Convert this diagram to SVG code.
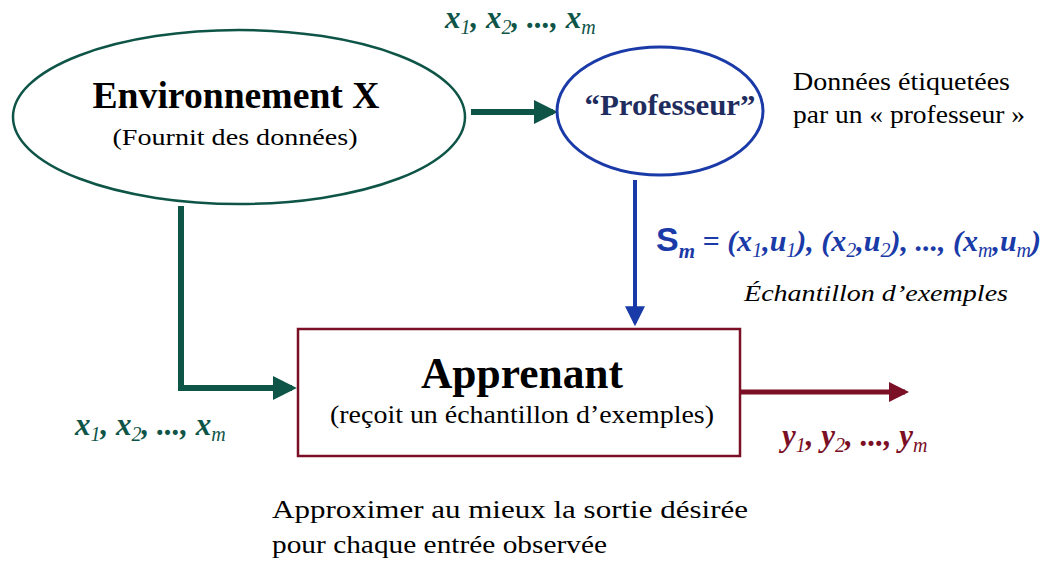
<svg xmlns="http://www.w3.org/2000/svg" width="1042" height="562" viewBox="0 0 1042 562">
<style>
.serif{font-family:"Liberation Serif","Times New Roman",serif}
.teal{fill:#0e5548}
.red{fill:#7a0f25}
.blue{fill:#1a3aa8}
.math{font-family:"Liberation Serif","Times New Roman",serif;font-style:italic;font-weight:bold;font-size:31px}
.sub{font-weight:normal;font-size:20px}
</style>
<defs>
<marker id="ahTeal" markerWidth="4" markerHeight="4" refX="3.2" refY="2" orient="auto" markerUnits="strokeWidth"><path d="M0,0 L4,2 L0,4 Z" fill="#0e5548"/></marker>
<marker id="ahBlue" markerWidth="5" markerHeight="5" refX="4.2" refY="2.5" orient="auto" markerUnits="strokeWidth"><path d="M0,0 L5,2.5 L0,5 Z" fill="#1a3aa8"/></marker>
<marker id="ahRed" markerWidth="4" markerHeight="4" refX="3.2" refY="2" orient="auto" markerUnits="strokeWidth"><path d="M0,0 L4,2 L0,4 Z" fill="#7a0f25"/></marker>
</defs>
<rect width="1042" height="562" fill="#fff"/>
<g id="connectors" fill="none">
<path d="M471,112 L553,112" stroke="#0e5548" stroke-width="6" marker-end="url(#ahTeal)"/>
<path d="M181,206 L181,388 L292,388" stroke="#0e5548" stroke-width="6" marker-end="url(#ahTeal)"/>
<path d="M635,180 L635,323" stroke="#1a3aa8" stroke-width="4" marker-end="url(#ahBlue)"/>
<path d="M741,392 L905,392" stroke="#7a0f25" stroke-width="5" marker-end="url(#ahRed)"/>
</g>
<g id="environnement">
<ellipse cx="239" cy="117" rx="226" ry="87" fill="none" stroke="#0e5548" stroke-width="2.5"/>
<text class="serif" x="236" y="108" font-size="38" font-weight="bold" text-anchor="middle" fill="#000" textLength="287" lengthAdjust="spacingAndGlyphs">Environnement X</text>
<text class="serif" x="235" y="145" font-size="24" text-anchor="middle" fill="#000" textLength="245" lengthAdjust="spacingAndGlyphs">(Fournit des données)</text>
</g>
<g id="professeur">
<ellipse cx="660" cy="111" rx="103" ry="64" fill="none" stroke="#1a3aa8" stroke-width="3"/>
<text class="serif" x="670" y="115" font-size="30" font-weight="bold" text-anchor="middle" fill="#1f2d5e" textLength="171" lengthAdjust="spacingAndGlyphs">“Professeur”</text>
</g>
<g id="apprenant">
<rect x="298" y="329" width="442" height="127" fill="none" stroke="#7a0f25" stroke-width="2.5"/>
<text class="serif" x="522" y="388" font-size="44" font-weight="bold" text-anchor="middle" fill="#000" textLength="202" lengthAdjust="spacingAndGlyphs">Apprenant</text>
<text class="serif" x="522" y="423" font-size="25" text-anchor="middle" fill="#000" textLength="384" lengthAdjust="spacingAndGlyphs">(reçoit un échantillon d’exemples)</text>
</g>
<g id="labels">
<text class="math teal" x="445" y="28">x<tspan class="sub" dy="6">1</tspan><tspan dy="-6">, x</tspan><tspan class="sub" dy="6">2</tspan><tspan dy="-6">, ..., x</tspan><tspan class="sub" dy="6">m</tspan></text>
<text class="math teal" x="75" y="435">x<tspan class="sub" dy="6">1</tspan><tspan dy="-6">, x</tspan><tspan class="sub" dy="6">2</tspan><tspan dy="-6">, ..., x</tspan><tspan class="sub" dy="6">m</tspan></text>
<text class="math red" x="782" y="446">y<tspan class="sub" dy="6">1</tspan><tspan dy="-6">, y</tspan><tspan class="sub" dy="6">2</tspan><tspan dy="-6">, ..., y</tspan><tspan class="sub" dy="6">m</tspan></text>
<text class="serif" x="793" y="90" font-size="25" fill="#000" textLength="217" lengthAdjust="spacingAndGlyphs">Données étiquetées</text>
<text class="serif" x="793" y="123" font-size="25" fill="#000" textLength="232" lengthAdjust="spacingAndGlyphs">par un « professeur »</text>
<text class="blue" x="656" y="251"><tspan font-family="'Liberation Sans',Arial,sans-serif" font-weight="bold" font-size="34">S</tspan><tspan class="serif" font-style="italic" font-weight="bold" font-size="21" dy="7">m</tspan><tspan class="serif" font-style="italic" font-weight="bold" font-size="30" dy="-7"> = (x</tspan><tspan class="serif" font-style="italic" font-size="20" dy="6">1</tspan><tspan class="serif" font-style="italic" font-weight="bold" font-size="30" dy="-6">,u</tspan><tspan class="serif" font-style="italic" font-size="20" dy="6">1</tspan><tspan class="serif" font-style="italic" font-weight="bold" font-size="30" dy="-6">), (x</tspan><tspan class="serif" font-style="italic" font-size="20" dy="6">2</tspan><tspan class="serif" font-style="italic" font-weight="bold" font-size="30" dy="-6">,u</tspan><tspan class="serif" font-style="italic" font-size="20" dy="6">2</tspan><tspan class="serif" font-style="italic" font-weight="bold" font-size="30" dy="-6">), ..., (x</tspan><tspan class="serif" font-style="italic" font-size="20" dy="6">m</tspan><tspan class="serif" font-style="italic" font-weight="bold" font-size="30" dy="-6">,u</tspan><tspan class="serif" font-style="italic" font-size="20" dy="6">m</tspan><tspan class="serif" font-style="italic" font-weight="bold" font-size="30" dy="-6">)</tspan></text>
<text class="serif" x="744" y="301" font-size="24" font-style="italic" fill="#000" textLength="264" lengthAdjust="spacingAndGlyphs">Échantillon d’exemples</text>
<text class="serif" x="272" y="518" font-size="26" fill="#000" textLength="476" lengthAdjust="spacingAndGlyphs">Approximer au mieux la sortie désirée</text>
<text class="serif" x="272" y="553" font-size="26" fill="#000" textLength="335" lengthAdjust="spacingAndGlyphs">pour chaque entrée observée</text>
</g>
</svg>
